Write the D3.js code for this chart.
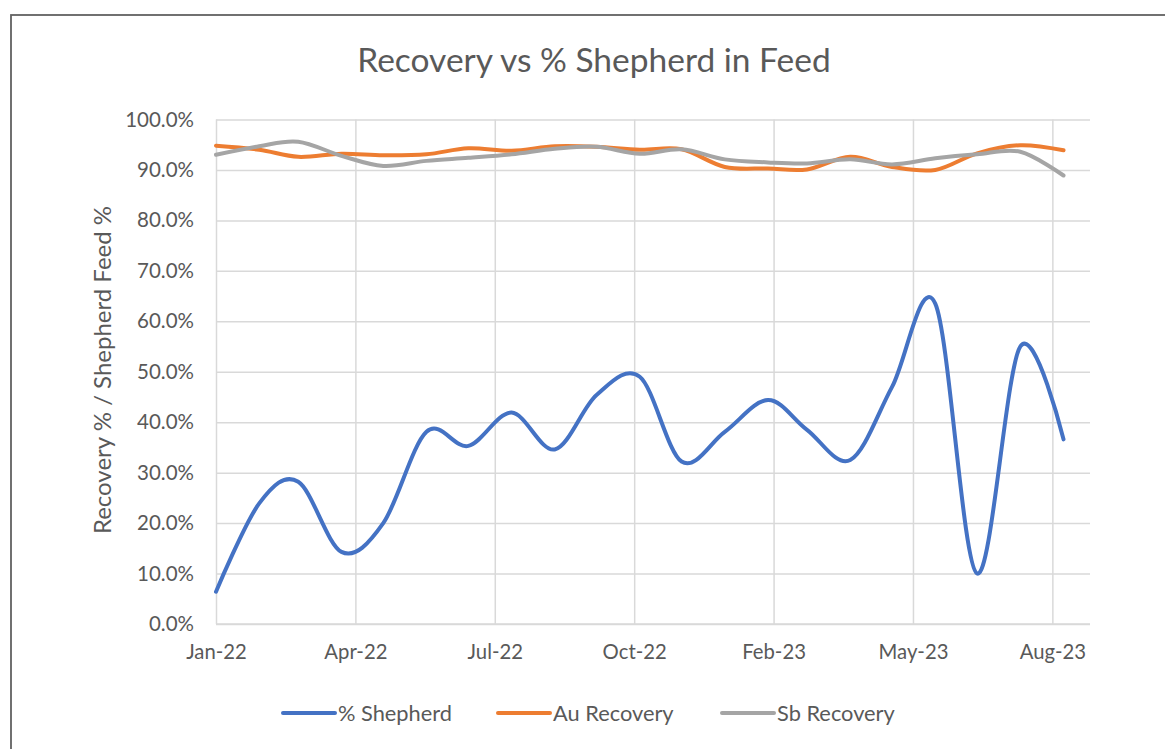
<!DOCTYPE html>
<html>
<head>
<meta charset="utf-8">
<script src="https://cdn.jsdelivr.net/npm/d3@7"></script>
<style>
  html, body { margin: 0; padding: 0; background: #fff; }
  svg { display: block; font-family: Lato, "Open Sans", sans-serif; }
</style>
</head>
<body>
<svg id="chart" width="1165" height="749"></svg>
<script>
// Monthly observations
const months = ["2022-01","2022-02","2022-03","2022-04","2022-05","2022-06","2022-07",
                "2022-08","2022-09","2022-10","2022-11","2022-12","2023-01","2023-02",
                "2023-03","2023-04","2023-05","2023-06","2023-07","2023-08","2023-09"];
const shepherdPct = [6.4, 23.9, 28.2, 14.3, 20.0, 38.1, 35.3, 41.9, 34.6, 45.4, 49.0,
                     32.2, 38.1, 44.4, 38.5, 32.5, 47.0, 63.5, 10.0, 55.0, 36.6];
const auRecovery  = [94.8, 94.0, 92.6, 93.2, 92.9, 93.1, 94.3, 93.8, 94.7, 94.6, 94.0,
                     94.1, 90.6, 90.3, 90.1, 92.6, 90.6, 90.0, 93.3, 94.9, 93.9];
const sbRecovery  = [93.0, 94.7, 95.6, 92.8, 90.8, 91.8, 92.4, 93.1, 94.2, 94.6, 93.2,
                     94.1, 92.1, 91.5, 91.3, 92.1, 91.1, 92.3, 93.1, 93.6, 88.9];

// Date axis: labels every 100 days from the start date
const xTickDates = ["2022-01-01","2022-04-11","2022-07-20","2022-10-28",
                    "2023-02-05","2023-05-16","2023-08-24"];
const xDomain = ["2022-01-01", "2023-09-20"];
const yTicks = [0,10,20,30,40,50,60,70,80,90,100];

const seriesNames = ["% Shepherd", "Au Recovery", "Sb Recovery"];
const seriesColors = ["#4472C4", "#ED7D31", "#A5A5A5"];

const parseMonth = d3.timeParse("%Y-%m");
const parseDay = d3.timeParse("%Y-%m-%d");
const dates = months.map(parseMonth);
const series = [shepherdPct, auRecovery, sbRecovery].map((vals, i) => ({
  name: seriesNames[i], color: seriesColors[i],
  points: vals.map((v, j) => ({ date: dates[j], value: v }))
}));

const svg = d3.select("#chart");
const textColor = "#595959";
const gridColor = "#d9d9d9";
const fontStack = "Lato, 'Open Sans', sans-serif";

// chart frame
svg.append("rect")
  .attr("x", 11).attr("y", 15).attr("width", 1200).attr("height", 800)
  .attr("fill", "#fff").attr("stroke", "#626262").attr("stroke-width", 1.8);

const plot = { left: 216, right: 1090, top: 119.5, bottom: 624 };

const x = d3.scaleTime().domain(xDomain.map(parseDay)).range([plot.left, plot.right]);
const y = d3.scaleLinear().domain([0, 100]).range([plot.bottom, plot.top]);

// title
svg.append("text")
  .attr("x", 594).attr("y", 72)
  .attr("text-anchor", "middle")
  .attr("fill", textColor)
  .attr("font-size", 33.5)
  .text("Recovery vs % Shepherd in Feed");

// horizontal gridlines + y labels
const yAxis = d3.axisLeft(y).tickValues(yTicks)
  .tickSize(-(plot.right - plot.left))
  .tickFormat(d => d3.format(".1f")(d) + "%")
  .tickPadding(22);
const gy = svg.append("g").attr("transform", `translate(${plot.left},0)`).call(yAxis);
gy.select(".domain").remove();
gy.selectAll(".tick line").attr("stroke", gridColor).attr("stroke-width", 1.5);
gy.selectAll(".tick text").attr("fill", textColor).attr("font-size", 20.5)
  .attr("font-family", fontStack);

// vertical gridlines + x labels
const xAxis = d3.axisBottom(x).tickValues(xTickDates.map(parseDay))
  .tickSize(-(plot.bottom - plot.top))
  .tickFormat(d3.timeFormat("%b-%y"))
  .tickPadding(21);
const gx = svg.append("g").attr("transform", `translate(0,${plot.bottom})`).call(xAxis);
gx.select(".domain").remove();
gx.selectAll(".tick line").attr("stroke", gridColor).attr("stroke-width", 1.5);
gx.selectAll(".tick text").attr("fill", textColor).attr("font-size", 20.3)
  .attr("font-family", fontStack);

// horizontal category axis line
svg.append("line")
  .attr("x1", plot.left).attr("x2", plot.right)
  .attr("y1", plot.bottom).attr("y2", plot.bottom)
  .attr("stroke", gridColor).attr("stroke-width", 1.5);

// y axis title
svg.append("text")
  .attr("transform", "translate(111,370) rotate(-90)")
  .attr("text-anchor", "middle")
  .attr("fill", textColor)
  .attr("font-size", 24)
  .text("Recovery % / Shepherd Feed %");

// smoothed lines
const line = d3.line()
  .x(d => x(d.date)).y(d => y(d.value))
  .curve(d3.curveCardinal.tension(0));

svg.append("g").selectAll("path")
  .data(series)
  .join("path")
  .attr("d", d => line(d.points))
  .attr("fill", "none")
  .attr("stroke", d => d.color)
  .attr("stroke-width", 4)
  .attr("stroke-linecap", "round")
  .attr("stroke-linejoin", "round");

// legend
const legendX = [283, 498, 722];
const lg = svg.append("g").selectAll("g")
  .data(series).join("g")
  .attr("transform", (d, i) => `translate(${legendX[i]},713)`);
lg.append("line")
  .attr("x1", 0).attr("x2", 52).attr("y1", 0).attr("y2", 0)
  .attr("stroke", d => d.color).attr("stroke-width", 4)
  .attr("stroke-linecap", "round");
lg.append("text")
  .attr("x", 55).attr("y", 0).attr("dy", "0.35em")
  .attr("fill", textColor).attr("font-size", 21.8)
  .text(d => d.name);
</script>
</body>
</html>
